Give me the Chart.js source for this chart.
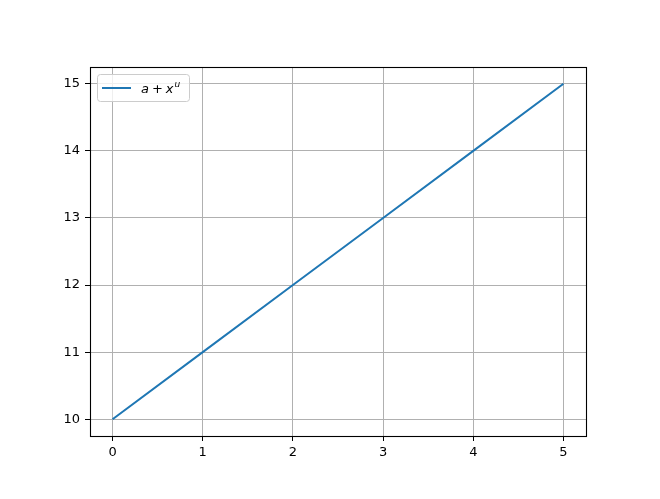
<!DOCTYPE html>
<html>
<head>
<meta charset="utf-8">
<script src="https://cdn.jsdelivr.net/npm/chart.js@4/dist/chart.umd.min.js"></script>
<style>
html,body{margin:0;padding:0;background:#fff;}
#wrap{width:660px;height:499px;}
</style>
</head>
<body>
<div id="wrap"><canvas id="c" width="660" height="499"></canvas></div>
<script>
const xValues = [0, 1, 2, 3, 4, 5];
const yValues = [10, 11, 12, 13, 14, 15];
const xTicks = [0, 1, 2, 3, 4, 5];
const yTicks = [10, 11, 12, 13, 14, 15];
const seriesLabel = 'a + x^u';

const framePlugin = {
  id: 'frame',
  afterDraw(chart) {
    const {ctx, chartArea: a} = chart;
    ctx.save();
    ctx.strokeStyle = '#000';
    ctx.lineWidth = 1.1;
    ctx.strokeRect(Math.round(a.left) + 0.5, Math.round(a.top) + 0.5, Math.round(a.right - a.left), Math.round(a.bottom - a.top));
    // legend
    const lx = a.left + 7, ly = a.top + 7, lw = 92, lh = 27;
    ctx.fillStyle = 'rgba(255,255,255,0.8)';
    ctx.strokeStyle = '#cccccc';
    ctx.lineWidth = 1;
    ctx.beginPath();
    if (ctx.roundRect) ctx.roundRect(lx + 0.5, ly + 0.5, lw, lh, 3); else ctx.rect(lx + 0.5, ly + 0.5, lw, lh);
    ctx.fill();
    ctx.stroke();
    ctx.strokeStyle = '#1f77b4';
    ctx.lineWidth = 2;
    ctx.beginPath();
    ctx.moveTo(lx + 5, ly + 14);
    ctx.lineTo(lx + 34, ly + 14);
    ctx.stroke();
    ctx.fillStyle = '#000';
    ctx.textBaseline = 'alphabetic';
    ctx.textAlign = 'left';
    const base = ly + 19;
    let x = lx + 44;
    ctx.font = 'oblique 13px "DejaVu Sans"';
    ctx.fillText('a', x, base); x += ctx.measureText('a').width + 3;
    ctx.font = '13px "DejaVu Sans"';
    ctx.fillText('+', x, base); x += ctx.measureText('+').width + 3;
    ctx.font = 'oblique 13px "DejaVu Sans"';
    ctx.fillText('x', x, base); x += ctx.measureText('x').width + 1;
    ctx.font = 'oblique 9px "DejaVu Sans"';
    ctx.fillText('u', x, base - 6);
    ctx.restore();
  }
};

new Chart(document.getElementById('c'), {
  type: 'line',
  data: {
    datasets: [{
      label: seriesLabel,
      data: xValues.map((x, i) => ({x: x, y: yValues[i]})),
      borderColor: '#1f77b4',
      borderWidth: 2,
      pointRadius: 0,
      fill: false,
      tension: 0
    }]
  },
  options: {
    responsive: false,
    animation: false,
    devicePixelRatio: 1,
    layout: {padding: {left: 0, top: 67, right: 74, bottom: 0}},
    plugins: {legend: {display: false}, tooltip: {enabled: false}},
    scales: {
      x: {
        type: 'linear',
        min: -0.25, max: 5.25,
        afterBuildTicks(s) { s.ticks = xTicks.map(v => ({value: v})); },
        afterFit(s) { s.height = 63; },
        grid: {color: '#b0b0b0', lineWidth: 1, tickColor: '#000', tickLength: 5, drawOnChartArea: true},
        border: {display: true, color: '#000', width: 1},
        ticks: {color: '#000', font: {family: 'DejaVu Sans', size: 13}, padding: 4, maxRotation: 0}
      },
      y: {
        type: 'linear',
        min: 9.75, max: 15.25,
        afterBuildTicks(s) { s.ticks = yTicks.map(v => ({value: v})); },
        afterFit(s) { s.width = 90; },
        grid: {color: '#b0b0b0', lineWidth: 1, tickColor: '#000', tickLength: 5},
        border: {display: true, color: '#000', width: 1},
        ticks: {color: '#000', font: {family: 'DejaVu Sans', size: 13}, padding: 5}
      }
    }
  },
  plugins: [framePlugin]
});
</script>
</body>
</html>
